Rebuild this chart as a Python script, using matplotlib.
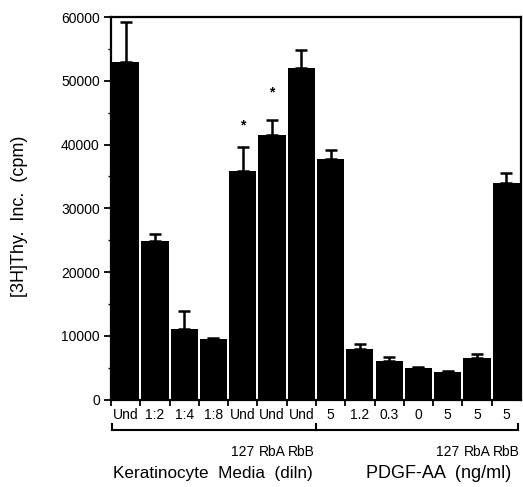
import matplotlib
matplotlib.use("Agg")
import matplotlib.pyplot as plt
import matplotlib.transforms as mtransforms
from matplotlib.ticker import MultipleLocator

plt.rcParams['font.family'] = ['Liberation Sans', 'DejaVu Sans']

# Data
tick_labels = ["Und", "1:2", "1:4", "1:8", "Und", "Und", "Und",
               "5", "1.2", "0.3", "0", "5", "5", "5"]
values = [53000, 24900, 11100, 9500, 35800, 41500, 52000,
          37800, 7900, 6100, 4900, 4400, 6600, 34000]
errors = [6200, 1100, 2800, 200, 3900, 2400, 2800,
          1400, 900, 650, 300, 150, 600, 1500]
sub_labels = {4: "127", 5: "RbA", 6: "RbB", 11: "127", 12: "RbA", 13: "RbB"}
star_positions = {4: 43000, 5: 48200}
group_names = ["Keratinocyte  Media  (diln)", "PDGF-AA  (ng/ml)"]

fig = plt.figure(figsize=(5.23, 4.87), dpi=100)
ax = fig.add_axes([0.2122, 0.1793, 0.7838, 0.7857])

x = list(range(len(values)))
ax.bar(x, values, width=0.93, color='black', zorder=2)
ax.errorbar(x, values, yerr=[[0]*len(values), errors], fmt='none',
            ecolor='black', elinewidth=1.8, capsize=4, capthick=1.8, zorder=3)

for i, y in star_positions.items():
    ax.text(i, y, "*", ha='center', va='center', fontsize=10, fontweight='bold')

ax.set_xlim(-0.5, 13.5)
ax.set_ylim(0, 60000)
ax.yaxis.set_major_locator(MultipleLocator(10000))
ax.yaxis.set_minor_locator(MultipleLocator(5000))
ax.tick_params(axis='y', which='major', direction='out', length=5, width=1.3, labelsize=10, pad=3)
ax.tick_params(axis='y', which='minor', direction='out', length=2.5, width=1)

boundaries = [i + 0.5 for i in range(-1, 13)]
ax.set_xticks(boundaries)
ax.set_xticklabels([])
ax.tick_params(axis='x', which='major', direction='out', length=4, width=1.3)
ax.set_xticks(x, minor=True)
ax.set_xticklabels(tick_labels, minor=True, fontsize=10)
ax.tick_params(axis='x', which='minor', length=0, pad=6)

for s in ax.spines.values():
    s.set_linewidth(1.6)

ax.set_ylabel("[3H]Thy.  Inc.  (cpm)", fontsize=13)
ax.yaxis.set_label_coords(-0.203, 0.48)

trans = mtransforms.blended_transform_factory(ax.transData, ax.transAxes)
yb, yt = -0.079, -0.064
for x0, x1 in [(-0.45, 6.5), (6.5, 13.4)]:
    ax.plot([x0, x1], [yb, yb], color='black', lw=1.5, transform=trans, clip_on=False)
for xv in [-0.45, 6.5, 13.4]:
    ax.plot([xv, xv], [yb, yt], color='black', lw=1.5, transform=trans, clip_on=False)

for i, lab in sub_labels.items():
    ax.text(i, -0.137, lab, transform=trans, ha='center', va='center', fontsize=10)

ax.text(2.98, -0.194, group_names[0], transform=trans, ha='center', va='center', fontsize=12.3)
ax.text(10.7, -0.194, group_names[1], transform=trans, ha='center', va='center', fontsize=13)

fig.savefig("out.png", dpi=100)
